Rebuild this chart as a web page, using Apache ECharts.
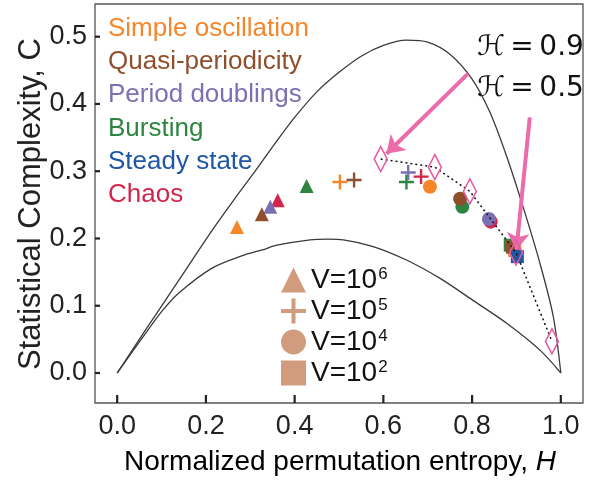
<!DOCTYPE html>
<html>
<head>
<meta charset="utf-8">
<script src="https://cdn.jsdelivr.net/npm/echarts@6/dist/echarts.min.js"></script>
<style>
html, body { margin: 0; padding: 0; background: #fff; }
#chart { width: 589px; height: 484px; }
</style>
</head>
<body>
<div id="chart"></div>
<script>
const categories = ['Simple oscillation', 'Quasi-periodicity', 'Period doublings', 'Bursting', 'Steady state', 'Chaos'];
const catColors = ['#F5862A', '#8F4E2C', '#7B70B4', '#2E8540', '#1F56A5', '#D2244C'];
// drawing order of the categories (later ones sit on top)
const drawOrder = [0, 3, 5, 2, 1, 4];

// [H, C, category index]
const triV6 = [[0.270, 0.217, 0], [0.326, 0.236, 1], [0.345, 0.247, 2], [0.427, 0.278, 3], [0.362, 0.257, 5]];
const plusV5 = [[0.502, 0.284, 0], [0.534, 0.287, 1], [0.656, 0.298, 2], [0.652, 0.284, 3], [0.685, 0.292, 5]];
const circV4 = [[0.705, 0.277, 0], [0.773, 0.259, 1], [0.838, 0.229, 2], [0.778, 0.247, 3], [0.842, 0.225, 5]];
const sqV2 = [[0.896, 0.182, 0], [0.891, 0.187, 1], [0.886, 0.190, 3], [0.902, 0.173, 4]];

const upperCurve = [[0, 0], [0.064, 0.064], [0.139, 0.138], [0.214, 0.212], [0.266, 0.260], [0.311, 0.300],
  [0.360, 0.345], [0.400, 0.380], [0.450, 0.418], [0.500, 0.447], [0.550, 0.471], [0.600, 0.487],
  [0.652, 0.495], [0.700, 0.492], [0.750, 0.474], [0.800, 0.437], [0.840, 0.388], [0.878, 0.322],
  [0.915, 0.247], [0.953, 0.163], [0.983, 0.084], [1, 0]];
const lowerCurve = [[0, 0], [0.064, 0.059], [0.101, 0.092], [0.139, 0.119], [0.214, 0.156], [0.289, 0.176],
  [0.327, 0.183], [0.360, 0.190], [0.435, 0.198], [0.475, 0.199], [0.510, 0.198], [0.577, 0.188],
  [0.652, 0.168], [0.727, 0.141], [0.802, 0.108], [0.878, 0.074], [0.953, 0.034], [1, 0]];
const diamondPath = [[0.594, 0.318], [0.716, 0.306], [0.795, 0.270], [0.899, 0.179], [0.980, 0.047]];
const arrows = [[[0.791, 0.445], [0.607, 0.326]], [[0.930, 0.380], [0.900, 0.183]]];

const xTicks = [0, 0.2, 0.4, 0.6, 0.8, 1.0];
const yTicks = [0, 0.1, 0.2, 0.3, 0.4, 0.5];
const volumeLabels = ['V=10⁶', 'V=10⁵', 'V=10⁴', 'V=10²'];
const volumeExp = ['6', '5', '4', '2'];

const X_MIN = -0.05, X_MAX = 1.05, Y_MIN = -0.0446, Y_MAX = 0.5486;

const FONT = '"Liberation Sans", Arial, sans-serif';
const legendColor = '#C6835E';
const plusPath = 'path://M4.2,0H5.8V4.2H10V5.8H5.8V10H4.2V5.8H0V4.2H4.2Z';
const markerTypes = [
  { pts: triV6, symbol: 'triangle', size: 14 },
  { pts: plusV5, symbol: plusPath, size: 15 },
  { pts: circV4, symbol: 'circle', size: 14 },
  { pts: sqV2, symbol: 'rect', size: 13 }
];

const chart = echarts.init(document.getElementById('chart'));

const series = [
  { type: 'line', data: upperCurve, smooth: 0.3, symbol: 'none', silent: true,
    lineStyle: { color: '#3a3a3a', width: 1.3 } },
  { type: 'line', data: lowerCurve, smooth: 0.3, symbol: 'none', silent: true,
    lineStyle: { color: '#3a3a3a', width: 1.3 } }
];

drawOrder.forEach(ci => {
  const data = [];
  markerTypes.forEach(m => {
    m.pts.filter(p => p[2] === ci).forEach(p => {
      data.push({ value: [p[0], p[1]], symbol: m.symbol, symbolSize: m.size });
    });
  });
  series.push({ name: categories[ci], type: 'scatter', data: data, silent: true,
    itemStyle: { color: catColors[ci], opacity: 1 } });
});

series.push({
  type: 'line', data: diamondPath, symbol: 'diamond', symbolSize: [13, 25], z: 5, silent: true,
  lineStyle: { color: '#111', width: 1.5, type: [2, 3] },
  itemStyle: { color: 'rgba(255,255,255,0)', borderColor: '#E65CA3', borderWidth: 1.7 },
  markLine: {
    silent: true, symbol: ['none', 'arrow'], symbolSize: 17, label: { show: false },
    lineStyle: { color: '#EC6BAA', width: 4, type: 'solid' },
    data: arrows.map(a => [{ coord: a[0] }, { coord: a[1] }])
  }
});

// dummy series feeding the volume legend
volumeLabels.forEach(v => {
  series.push({ name: v, type: 'scatter', data: [], itemStyle: { color: legendColor } });
});

const textItems = categories.map((c, i) => ({
  type: 'text', x: 108, y: 28.5 + i * 33.3,
  style: { text: c, fill: catColors[i], font: '26px ' + FONT, textVerticalAlign: 'middle' }
}));
textItems.push(
  { type: 'text', x: 477, y: 47.5, style: { text: 'ℋ\u2009=\u20090.9', fill: '#111', font: '28px "DejaVu Sans"', textVerticalAlign: 'middle' } },
  { type: 'text', x: 477, y: 89, style: { text: 'ℋ\u2009=\u20090.5', fill: '#111', font: '28px "DejaVu Sans"', textVerticalAlign: 'middle' } },
  { type: 'text', x: 340, y: 462,
    style: { text: '{a|Normalized permutation entropy, }{b|H}', textAlign: 'center', textVerticalAlign: 'middle',
      rich: { a: { fontSize: 28, fontFamily: FONT, color: '#222' },
              b: { fontSize: 28, fontFamily: FONT, fontStyle: 'italic', color: '#222' } } } },
  { type: 'text', x: 31, y: 204, rotation: Math.PI / 2,
    style: { text: 'Statistical Complexity, C', fill: '#222', font: '31px ' + FONT,
      textAlign: 'center', textVerticalAlign: 'middle' } }
);

chart.setOption({
  animation: false,
  grid: { left: 95, right: 6, top: 4, bottom: 81, show: true, borderColor: '#555', borderWidth: 1.3 },
  xAxis: {
    type: 'value', min: X_MIN, max: X_MAX,
    axisLine: { show: false, onZero: false },
    splitLine: { show: false },
    axisTick: { show: false },
    axisLabel: { customValues: xTicks, formatter: v => v.toFixed(1), fontSize: 27, fontFamily: FONT, color: '#222', margin: 10 }
  },
  yAxis: {
    type: 'value', min: Y_MIN, max: Y_MAX,
    axisLine: { show: false, onZero: false },
    splitLine: { show: false },
    axisTick: { show: false },
    axisLabel: { customValues: yTicks, formatter: v => v.toFixed(1), fontSize: 27, fontFamily: FONT, color: '#222', margin: 8 }
  },
  legend: {
    orient: 'vertical', left: 281, top: 266, itemWidth: 25, itemHeight: 25, itemGap: 3,
    selectedMode: false, padding: 0,
    formatter: name => '{a|V=10}{s|' + volumeExp[volumeLabels.indexOf(name)] + '}',
    textStyle: {
      fontSize: 28, fontFamily: FONT, color: '#111',
      rich: {
        a: { fontSize: 28, fontFamily: FONT, color: '#111' },
        s: { fontSize: 17, fontFamily: FONT, color: '#111', verticalAlign: 'top', padding: [0, 0, 0, 1] }
      }
    },
    data: [
      { name: volumeLabels[0], icon: 'triangle' },
      { name: volumeLabels[1], icon: plusPath },
      { name: volumeLabels[2], icon: 'circle' },
      { name: volumeLabels[3], icon: 'rect' }
    ]
  },
  graphic: textItems,
  series: series
});

// inward tick marks on the frame, positioned with the chart's own axis scales
const tickStyle = { stroke: '#222', lineWidth: 2.2 };
const tickLines = [];
xTicks.forEach(v => {
  const p = chart.convertToPixel({ gridIndex: 0 }, [v, Y_MIN]);
  tickLines.push({ type: 'line', z: 100, silent: true,
    shape: { x1: p[0], y1: p[1], x2: p[0], y2: p[1] - 8 }, style: tickStyle });
});
yTicks.forEach(v => {
  const p = chart.convertToPixel({ gridIndex: 0 }, [X_MIN, v]);
  tickLines.push({ type: 'line', z: 100, silent: true,
    shape: { x1: p[0], y1: p[1], x2: p[0] + 5, y2: p[1] }, style: tickStyle });
});
chart.setOption({ graphic: textItems.concat(tickLines) });
</script>
</body>
</html>
